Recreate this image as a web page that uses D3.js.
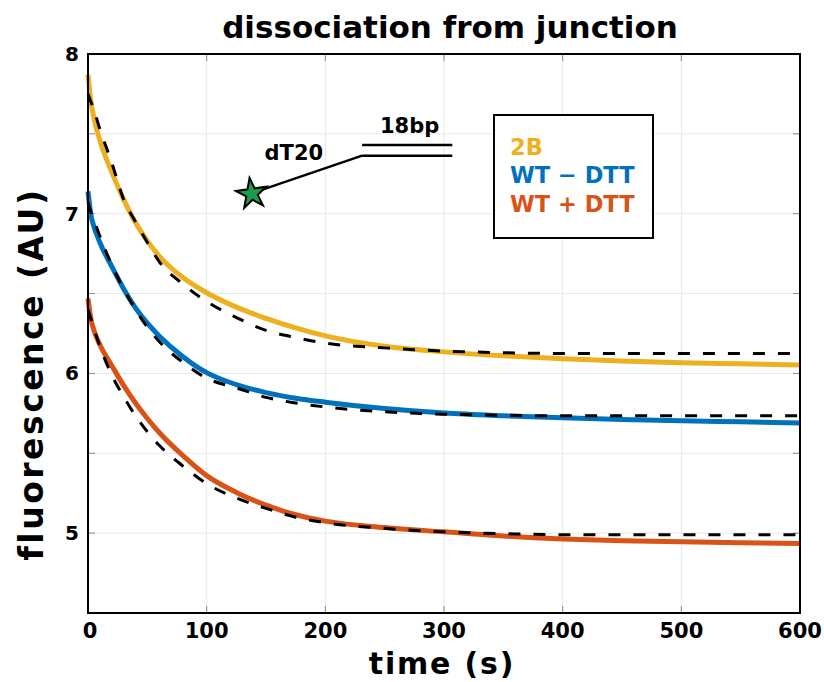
<!DOCTYPE html>
<html>
<head>
<meta charset="utf-8">
<script src="https://cdn.jsdelivr.net/npm/d3@7"></script>
<style>
  body { margin: 0; background: #fff; }
  text { font-family: "DejaVu Sans", sans-serif; font-weight: bold; }
</style>
</head>
<body>
<svg id="chart" width="824" height="682"></svg>
<script>
// time points (s)
const times = [0, 2.5, 5, 10, 20, 30, 40, 50, 60, 80, 100, 125, 150, 175, 200, 250, 300, 350, 400, 450, 500, 550, 600];

// measured traces
const data2B  = [7.87, 7.70, 7.60, 7.46, 7.26, 7.09, 6.945, 6.83, 6.735, 6.60, 6.505, 6.415, 6.345, 6.285, 6.235, 6.17, 6.135, 6.11, 6.092, 6.078, 6.067, 6.06, 6.053];
const dataWTm = [7.14, 6.99, 6.92, 6.82, 6.67, 6.53, 6.41, 6.315, 6.235, 6.105, 6.005, 5.93, 5.88, 5.845, 5.82, 5.78, 5.752, 5.735, 5.722, 5.712, 5.704, 5.697, 5.69];
const dataWTp = [6.47, 6.34, 6.27, 6.18, 6.05, 5.925, 5.815, 5.718, 5.63, 5.485, 5.36, 5.255, 5.175, 5.115, 5.075, 5.035, 5.008, 4.982, 4.964, 4.953, 4.946, 4.94, 4.935];

// single exponential fits (dashed)
const fit2B  = [7.75, 7.70, 7.65, 7.53, 7.32, 7.09, 6.95, 6.82, 6.70, 6.56, 6.45, 6.35, 6.27, 6.225, 6.19, 6.16, 6.14, 6.13, 6.125, 6.125, 6.125, 6.125, 6.125];
const fitWTm = [7.07, 7.01, 6.96, 6.86, 6.68, 6.53, 6.40, 6.29, 6.20, 6.07, 5.97, 5.91, 5.85, 5.815, 5.79, 5.76, 5.745, 5.738, 5.735, 5.735, 5.735, 5.735, 5.735];
const fitWTp = [6.40, 6.34, 6.28, 6.17, 5.99, 5.855, 5.735, 5.635, 5.55, 5.42, 5.31, 5.22, 5.155, 5.10, 5.065, 5.03, 5.008, 4.997, 4.99, 4.99, 4.99, 4.99, 4.99];

const seriesNames  = ["2B", "WT \u2212 DTT", "WT + DTT"];
const seriesColors = ["#EDB120", "#0072BD", "#D95319"];

const xTicks = [0, 100, 200, 300, 400, 500, 600];
const yTicks = [5, 6, 7, 8];
const yGrid  = [5, 5.5, 6, 6.5, 7, 7.5];

const svg = d3.select("#chart");
const margin = { left: 88, right: 24, top: 54, bottom: 69 };
const width = +svg.attr("width");
const height = +svg.attr("height");

const x = d3.scaleLinear().domain([0, 600]).range([margin.left, width - margin.right]);
const y = d3.scaleLinear().domain([4.5, 8]).range([height - margin.bottom, margin.top]);

// ---- grid ----
const grid = svg.append("g").attr("class", "grid")
  .attr("stroke", "#e8e8e8").attr("stroke-width", 1);
grid.selectAll("line.gx").data(xTicks.slice(1, -1)).enter().append("line")
  .attr("x1", d => x(d)).attr("x2", d => x(d))
  .attr("y1", y(4.5)).attr("y2", y(8));
grid.selectAll("line.gy").data(yGrid).enter().append("line")
  .attr("x1", x(0)).attr("x2", x(600))
  .attr("y1", d => y(d)).attr("y2", d => y(d));

// ---- inward ticks on all sides ----
const tickLen = 7;
const ticks = svg.append("g").attr("stroke", "#888").attr("stroke-width", 1);
xTicks.slice(1, -1).forEach(t => {
  ticks.append("line").attr("x1", x(t)).attr("x2", x(t)).attr("y1", y(4.5)).attr("y2", y(4.5) - tickLen);
  ticks.append("line").attr("x1", x(t)).attr("x2", x(t)).attr("y1", y(8)).attr("y2", y(8) + tickLen);
});
yGrid.forEach(v => {
  ticks.append("line").attr("x1", x(0)).attr("x2", x(0) + tickLen).attr("y1", y(v)).attr("y2", y(v));
  ticks.append("line").attr("x1", x(600)).attr("x2", x(600) - tickLen).attr("y1", y(v)).attr("y2", y(v));
});

// ---- curves ----
const line = d3.line().x((d, i) => x(times[i])).y(d => y(d)).curve(d3.curveMonotoneX);
const traces = [data2B, dataWTm, dataWTp];
const fits = [fit2B, fitWTm, fitWTp];

const plot = svg.append("g").attr("class", "plot");
traces.forEach((s, i) => {
  plot.append("path").datum(s)
    .attr("fill", "none")
    .attr("stroke", seriesColors[i])
    .attr("stroke-width", 5)
    .attr("d", line);
});
fits.forEach(s => {
  plot.append("path").datum(s)
    .attr("fill", "none")
    .attr("stroke", "#000")
    .attr("stroke-width", 3)
    .attr("stroke-dasharray", "12,13")
    .attr("d", line);
});

// ---- frame ----
svg.append("rect")
  .attr("x", x(0)).attr("y", y(8))
  .attr("width", x(600) - x(0)).attr("height", y(4.5) - y(8))
  .attr("fill", "none").attr("stroke", "#000").attr("stroke-width", 2);

// ---- tick labels ----
svg.append("g").selectAll("text").data(xTicks).enter().append("text")
  .attr("x", d => x(d) + (d === 0 ? 2 : 0)).attr("y", y(4.5) + 25)
  .attr("text-anchor", "middle").attr("font-size", 21)
  .text(d => d);
svg.append("g").selectAll("text").data(yTicks).enter().append("text")
  .attr("x", x(0) - 9).attr("y", d => y(d) + 7)
  .attr("text-anchor", "end").attr("font-size", 20)
  .text(d => d);

// ---- titles ----
svg.append("text")
  .attr("x", 450).attr("y", 38)
  .attr("text-anchor", "middle").attr("font-size", 31)
  .text("dissociation from junction");
svg.append("text")
  .attr("x", 442).attr("y", 674)
  .attr("text-anchor", "middle").attr("font-size", 30)
  .attr("letter-spacing", 1.8)
  .text("time (s)");
svg.append("text")
  .attr("transform", "translate(43,374) rotate(-90)")
  .attr("text-anchor", "middle").attr("font-size", 33)
  .attr("letter-spacing", 2.5)
  .text("fluorescence (AU)");

// ---- schematic: dT20 tail + 18bp duplex ----
const ann = svg.append("g").attr("class", "annotation");
ann.append("line")
  .attr("x1", x(139)).attr("y1", y(7.13))
  .attr("x2", x(231)).attr("y2", y(7.363))
  .attr("stroke", "#000").attr("stroke-width", 2.4);
[7.43, 7.363].forEach(v => {
  ann.append("line")
    .attr("x1", x(231)).attr("x2", x(307))
    .attr("y1", y(v)).attr("y2", y(v))
    .attr("stroke", "#000").attr("stroke-width", 2.4);
});
ann.append("path")
  .attr("d", d3.symbol().type(d3.symbolStar).size(290)())
  .attr("transform", `translate(${x(138)},${y(7.125)}) rotate(-8)`)
  .attr("fill", "#1c9b4e").attr("stroke", "#000").attr("stroke-width", 2);
ann.append("text")
  .attr("x", x(173.5)).attr("y", y(7.335))
  .attr("text-anchor", "middle").attr("font-size", 21)
  .text("dT20");
ann.append("text")
  .attr("x", x(271)).attr("y", y(7.505))
  .attr("text-anchor", "middle").attr("font-size", 21)
  .text("18bp");

// ---- legend ----
const legend = svg.append("g").attr("class", "legend");
legend.append("rect")
  .attr("x", 494).attr("y", 115).attr("width", 159).attr("height", 123)
  .attr("fill", "#fff").attr("stroke", "#000").attr("stroke-width", 2);
seriesNames.forEach((n, i) => {
  legend.append("text")
    .attr("x", 510).attr("y", 155 + i * 28.3)
    .attr("font-size", 22.5)
    .attr("fill", seriesColors[i])
    .text(n);
});
</script>
</body>
</html>
